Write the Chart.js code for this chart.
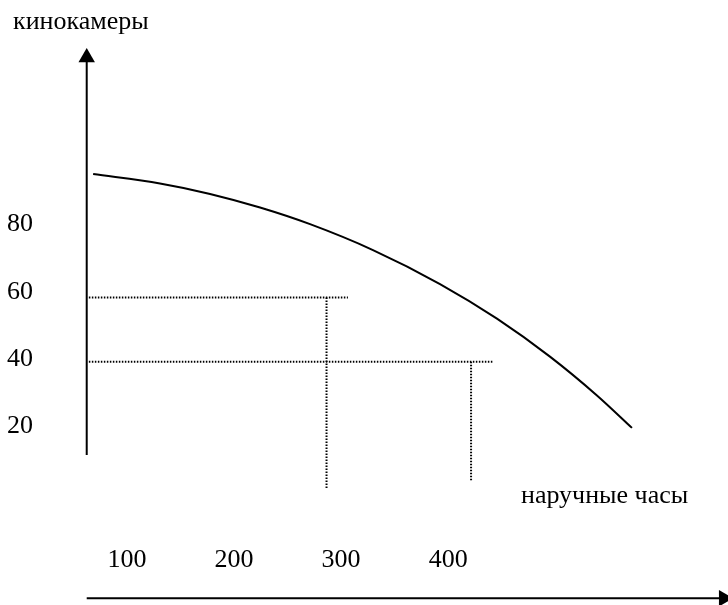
<!DOCTYPE html>
<html>
<head>
<meta charset="utf-8">
<script src="https://cdn.jsdelivr.net/npm/chart.js@4"></script>
<style>
  html, body { margin: 0; padding: 0; background: #fff; }
  #wrap { width: 728px; height: 605px; }
</style>
</head>
<body>
<div id="wrap"><canvas id="ppfChart" width="728" height="605"></canvas></div>
<script>
// data (value units of the drawn ticks)
const xTicks = [100, 200, 300, 400];
const yTicks = [20, 40, 60, 80];
const curveX = [67, 129.4, 176.2, 222.9, 269.6, 328.4, 391, 444.2, 493.7, 537.6, 570.3];
const curveY = [94.2, 91.4, 88.3, 84.25, 79.3, 71.6, 61.5, 51.2, 39.9, 28.35, 18.7];
// dotted guides: level on y, where it drops to the x axis, where the level line ends
const guideLevels = [57.5, 38.4];
const guideDrops = [285, 420];
const guideEnds = [305, 440];
const guideBottoms = [0.5, 2.7];
const axisOrigin = { x: 61, y: -32 };
const yAxisSpan = [10.6, 128.9];
const xAxisEnd = 656;
const yTitle = 'кинокамеры';
const xTitle = 'наручные часы';

document.addEventListener('DOMContentLoaded', function() {
    const FONT = '26px "Liberation Serif", "Times New Roman", serif';

    function toPoints(xs, ys) {
        return xs.map((x, i) => ({ x: x, y: ys[i] }));
    }

    const datasets = [];

    datasets.push({
        label: 'curve',
        data: toPoints(curveX, curveY),
        borderColor: '#000',
        borderWidth: 2,
        pointRadius: 0,
        cubicInterpolationMode: 'monotone'
    });

    guideLevels.forEach((lvl, i) => {
        datasets.push({
            label: 'guide-h' + i,
            data: [{ x: axisOrigin.x + 2, y: lvl }, { x: guideEnds[i], y: lvl }],
            borderColor: '#000',
            borderWidth: 2,
            borderDash: [1.5, 1.5],
            pointRadius: 0
        });
        datasets.push({
            label: 'guide-v' + i,
            data: [{ x: guideDrops[i], y: lvl }, { x: guideDrops[i], y: guideBottoms[i] }],
            borderColor: '#000',
            borderWidth: 2,
            borderDash: [1.5, 1.5],
            pointRadius: 0
        });
    });

    // axes with arrow heads
    datasets.push({
        label: 'y-axis',
        data: [{ x: axisOrigin.x, y: yAxisSpan[0] }, { x: axisOrigin.x, y: yAxisSpan[1] }],
        borderColor: '#000',
        borderWidth: 2,
        pointRadius: [0, 9.5],
        pointStyle: 'triangle',
        pointBackgroundColor: '#000',
        pointBorderWidth: 0
    });
    datasets.push({
        label: 'x-axis',
        data: [{ x: axisOrigin.x, y: axisOrigin.y }, { x: xAxisEnd, y: axisOrigin.y }],
        borderColor: '#000',
        borderWidth: 2,
        pointRadius: [0, 9.5],
        pointStyle: 'triangle',
        pointRotation: 90,
        pointBackgroundColor: '#000',
        pointBorderWidth: 0
    });

    const textPlugin = {
        id: 'sketchText',
        afterDraw(chart) {
            const ctx = chart.ctx;
            const xs = chart.scales.x;
            const ys = chart.scales.y;
            ctx.save();
            ctx.fillStyle = '#000';
            ctx.font = FONT;
            ctx.textBaseline = 'alphabetic';

            ctx.textAlign = 'center';
            yTicks.forEach(v => {
                ctx.fillText(String(v), 20, ys.getPixelForValue(v) + 9.5);
            });
            xTicks.forEach(v => {
                ctx.fillText(String(v), xs.getPixelForValue(v) - 1.5, 567);
            });

            ctx.textAlign = 'left';
            ctx.fillText(yTitle, 13, 28.5);
            ctx.fillText(xTitle, 521, 503);
            ctx.restore();
        }
    };

    new Chart(document.getElementById('ppfChart').getContext('2d'), {
        type: 'line',
        data: { datasets: datasets },
        options: {
            responsive: false,
            animation: false,
            layout: { padding: 0, autoPadding: false },
            clip: false,
            scales: {
                x: { type: 'linear', min: -20, max: 660, display: false },
                y: { type: 'linear', min: -34, max: 146, display: false }
            },
            plugins: {
                legend: { display: false },
                tooltip: { enabled: false }
            }
        },
        plugins: [textPlugin]
    });
});
</script>
</body>
</html>
